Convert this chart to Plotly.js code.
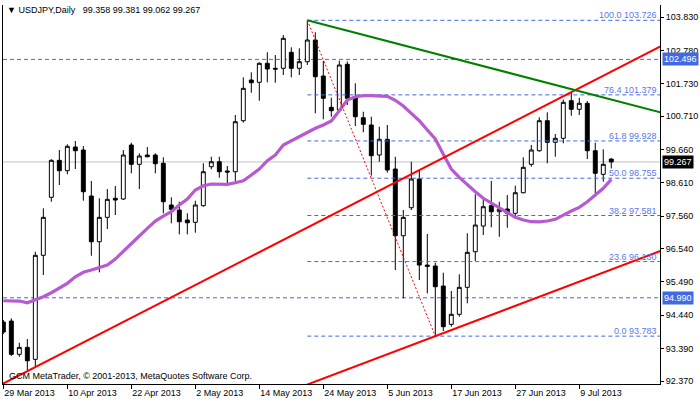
<!DOCTYPE html>
<html><head><meta charset="utf-8">
<script src="https://cdn.plot.ly/plotly-3.0.1.min.js"></script>
<style>html,body{margin:0;padding:0;background:#fff}#chart{width:700px;height:402px}</style>
</head><body><div id="chart"></div>
<script>
const dates = ['2013-03-29','2013-04-01','2013-04-02','2013-04-03','2013-04-04','2013-04-05','2013-04-08','2013-04-09','2013-04-10','2013-04-11',
'2013-04-12','2013-04-15','2013-04-16','2013-04-17','2013-04-18','2013-04-19','2013-04-22','2013-04-23','2013-04-24','2013-04-25',
'2013-04-26','2013-04-29','2013-04-30','2013-05-01','2013-05-02','2013-05-03','2013-05-06','2013-05-07','2013-05-08','2013-05-09',
'2013-05-10','2013-05-13','2013-05-14','2013-05-15','2013-05-16','2013-05-17','2013-05-20','2013-05-21','2013-05-22','2013-05-23',
'2013-05-24','2013-05-27','2013-05-28','2013-05-29','2013-05-30','2013-05-31','2013-06-03','2013-06-04','2013-06-05','2013-06-06',
'2013-06-07','2013-06-10','2013-06-11','2013-06-12','2013-06-13','2013-06-14','2013-06-17','2013-06-18','2013-06-19','2013-06-20',
'2013-06-21','2013-06-24','2013-06-25','2013-06-26','2013-06-27','2013-06-28','2013-07-01','2013-07-02','2013-07-03','2013-07-04',
'2013-07-05','2013-07-08','2013-07-09','2013-07-10','2013-07-11','2013-07-12','2013-07-15'];
const open = [94.227,94.258,93.210,93.430,93.052,96.327,98.153,99.318,98.991,99.737,
99.642,98.194,96.755,97.523,98.122,98.100,99.800,99.192,99.485,99.485,
99.224,97.911,97.753,97.438,97.366,97.889,99.117,99.274,98.981,98.959,
100.565,101.846,101.774,102.372,102.215,102.215,102.719,102.215,102.423,103.106,
101.972,100.987,100.902,102.341,101.321,100.659,100.430,99.485,99.979,99.044,
96.944,97.826,98.729,96.021,95.990,95.360,94.154,94.469,95.319,96.440,
97.249,97.889,97.700,97.785,97.649,98.298,99.192,99.620,100.565,99.885,
100.011,101.195,100.924,101.113,99.620,98.877,99.358];
const high = [94.290,94.343,93.575,93.692,96.440,97.807,99.350,99.642,99.822,99.926,
99.768,98.666,98.122,98.414,98.509,99.642,99.872,99.538,99.737,99.538,
99.413,98.153,98.015,97.649,98.046,99.224,99.431,99.431,99.139,100.744,
101.931,102.089,102.404,102.719,102.634,103.263,102.876,102.844,103.726,103.350,
102.454,101.289,102.454,102.430,101.742,100.848,100.691,100.376,100.430,99.431,
97.753,99.274,99.013,96.998,96.094,95.779,95.203,95.729,97.020,98.248,
98.140,98.666,98.015,98.225,98.518,99.413,99.800,100.672,100.829,100.146,
101.230,101.459,101.289,101.185,99.872,99.664,99.381];
const low = [93.849,93.156,93.134,92.715,92.810,95.707,98.015,98.540,98.877,99.044,
98.046,96.314,95.792,97.155,97.596,98.068,98.909,98.414,99.413,98.909,
97.649,97.334,96.988,96.988,97.039,97.857,99.035,98.770,98.594,98.644,
100.502,101.447,101.195,101.774,101.761,102.004,101.931,102.004,102.319,100.798,
100.609,100.691,100.848,101.059,100.398,100.200,98.833,99.274,98.928,95.864,
94.973,97.753,95.549,95.130,93.783,93.943,94.079,94.394,94.815,96.147,
96.966,97.208,96.912,97.196,97.542,98.279,99.117,99.589,99.224,99.431,
99.853,100.722,100.744,99.359,98.279,98.644,99.062];
const close = [93.912,93.210,93.430,93.008,96.327,97.523,99.318,98.991,99.759,99.620,
98.329,96.755,97.523,98.090,98.068,99.485,99.192,99.453,99.431,99.211,
98.015,97.775,97.385,97.353,97.911,98.959,99.274,98.959,98.950,100.533,
101.585,101.761,102.372,102.193,102.190,103.159,102.215,102.423,103.106,101.950,
101.270,100.880,102.319,101.270,100.691,100.452,99.463,99.979,99.013,96.944,
97.523,98.729,96.021,95.980,95.338,94.079,94.469,95.319,96.421,97.281,
97.857,97.700,97.775,97.649,98.298,99.098,99.642,100.565,99.885,100.011,
101.144,100.924,101.113,99.620,98.909,99.192,99.267];
const ma = [94.897,94.904,94.888,94.834,94.919,95.023,95.149,95.288,95.445,95.653,
95.792,95.864,95.936,96.021,96.210,96.462,96.705,96.935,97.177,97.407,
97.564,97.700,97.911,98.100,98.383,98.518,98.572,98.570,98.560,98.613,
98.676,98.855,99.044,99.305,99.485,99.800,99.935,100.061,100.209,100.326,
100.430,100.555,100.880,101.217,101.321,101.352,101.352,101.350,101.333,101.207,
101.028,100.798,100.565,100.272,99.989,99.507,99.044,98.783,98.540,98.329,
98.122,97.974,97.826,97.659,97.523,97.438,97.385,97.383,97.407,97.460,
97.596,97.722,97.838,98.015,98.225,98.436,98.720];

const fibPct = ['100.0','76.4','61.8','50.0','38.2','23.6','0.0'];
const fibPrice = [103.726,101.379,99.928,98.755,97.581,96.130,93.783];
const fibDates = ['2013-05-22','2013-07-25'];
const fibBaseDates = ['2013-05-22','2013-06-13'];
const fibBasePrices = [103.726,93.783];
const upperTrendDates = ['2013-03-28','2013-07-25'];
const upperTrendPrices = [92.162,103.142];
const lowerTrendDates = ['2013-05-20','2013-07-25'];
const lowerTrendPrices = [92.068,96.642];
const greenTrendDates = ['2013-05-22','2013-07-25'];
const greenTrendPrices = [103.726,100.706];
const levelPrices = [102.496,94.990];
const lastPrice = 99.267;
const yTickVals = [103.830,102.780,101.730,100.710,99.660,98.610,97.560,96.540,95.490,94.440,93.390,92.370];
const xTickDates = ['2013-03-29','2013-04-10','2013-04-22','2013-05-02','2013-05-14','2013-05-24','2013-06-05','2013-06-17','2013-06-27','2013-07-09'];
const xTickText = ['29 Mar 2013','10 Apr 2013','22 Apr 2013','2 May 2013','14 May 2013','24 May 2013','5 Jun 2013','17 Jun 2013','27 Jun 2013','9 Jul 2013'];
const titleText = '\u25BC USDJPY,Daily\u00a0\u00a0 99.358 99.381 99.062 99.267';
const copyText = 'GCM MetaTrader, \u00a9 2001-2013, MetaQuotes Software Corp.';

const T = d => d + ' 12:00';
const FONT = 'Liberation Sans, Arial, sans-serif';
const BLUE = '#4169e1';

const traces = [];
fibPrice.forEach(p => traces.push({type:'scatter', mode:'lines', x: fibDates.map(T), y:[p,p],
  line:{color:BLUE, width:1, dash:'4px,3px'}, hoverinfo:'skip', showlegend:false}));
traces.push({type:'candlestick', x: dates.map(T), open, high, low, close,
  increasing:{line:{color:'#000', width:1}, fillcolor:'#ffffff'},
  decreasing:{line:{color:'#000', width:1}, fillcolor:'#000000'},
  whiskerwidth:0, hoverinfo:'skip', showlegend:false});
traces.push({type:'scatter', mode:'lines', x: dates.map(T), y: ma,
  line:{color:'#b75ad2', width:3.2}, hoverinfo:'skip', showlegend:false});
traces.push({type:'scatter', mode:'lines', x: fibBaseDates.map(T), y: fibBasePrices,
  line:{color:'#ff0000', width:1, dash:'2px,2px'}, hoverinfo:'skip', showlegend:false});
traces.push({type:'scatter', mode:'lines', x: upperTrendDates.map(T), y: upperTrendPrices,
  line:{color:'#ff0000', width:2}, hoverinfo:'skip', showlegend:false});
traces.push({type:'scatter', mode:'lines', x: lowerTrendDates.map(T), y: lowerTrendPrices,
  line:{color:'#ff0000', width:2}, hoverinfo:'skip', showlegend:false});
traces.push({type:'scatter', mode:'lines', x: greenTrendDates.map(T), y: greenTrendPrices,
  line:{color:'#008000', width:2}, hoverinfo:'skip', showlegend:false});

const shapes = [];
levelPrices.forEach(p => shapes.push({type:'line', xref:'paper', x0:0, x1:1, yref:'y', y0:p, y1:p,
  line:{color:BLUE, width:1, dash:'4px,3px'}, layer:'below'}));
shapes.push({type:'line', xref:'paper', x0:0, x1:1, yref:'y', y0:lastPrice, y1:lastPrice,
  line:{color:'#c0c0c0', width:1}, layer:'below'});

const annotations = [];
fibPct.forEach((pc, i) => annotations.push({xref:'paper', x:1, xanchor:'right', xshift:-1,
  yref:'y', y:fibPrice[i], yanchor:'bottom', yshift:-2, showarrow:false,
  text: pc + ' ' + fibPrice[i].toFixed(3), font:{family:FONT, size:9, color:'#5a78ea'}}));
levelPrices.forEach(p => annotations.push({xref:'paper', x:1, xanchor:'left', xshift:2,
  yref:'y', y:p, yanchor:'middle', showarrow:false, bgcolor:BLUE, borderpad:1,
  text: p.toFixed(3), font:{family:FONT, size:9, color:'#ffffff'}}));
annotations.push({xref:'paper', x:1, xanchor:'left', xshift:2, yref:'y', y:lastPrice, yanchor:'middle',
  showarrow:false, bgcolor:'#000', borderpad:1, text:lastPrice.toFixed(3), font:{family:FONT, size:9, color:'#fff'}});
annotations.push({xref:'paper', x:0, xanchor:'left', xshift:2, yref:'paper', y:1, yanchor:'top', yshift:2,
  showarrow:false, text:titleText, font:{family:FONT, size:9, color:'#000'}});
annotations.push({xref:'paper', x:0, xanchor:'left', xshift:4, yref:'paper', y:0, yanchor:'bottom', yshift:1,
  showarrow:false, text:copyText, font:{family:FONT, size:9, color:'#000'}});

const layout = {
  width:700, height:402, margin:{l:3, r:40, t:5, b:18},
  paper_bgcolor:'#fff', plot_bgcolor:'#fff', showlegend:false,
  font:{family:FONT, size:9, color:'#000'},
  xaxis:{type:'date', range:['2013-03-29 11:00','2013-07-23 14:10'],
    rangebreaks:[{bounds:['sat','mon']}], rangeslider:{visible:false},
    tickmode:'array', tickvals: xTickDates.map(T), ticktext: xTickText,
    ticks:'outside', ticklen:4, tickcolor:'#000', ticklabelposition:'outside right',
    showgrid:false, zeroline:false, showline:true, linecolor:'#000', linewidth:1, fixedrange:true},
  yaxis:{side:'right', range:[92.276,104.208], tickmode:'array', tickvals:yTickVals,
    ticktext: yTickVals.map(v => v.toFixed(3)), ticks:'outside', ticklen:3, tickcolor:'#000',
    showgrid:false, zeroline:false, showline:true, mirror:true, linecolor:'#000', linewidth:1, fixedrange:true},
  shapes, annotations
};
Plotly.newPlot('chart', traces, layout, {staticPlot:true, displayModeBar:false});
</script></body></html>
